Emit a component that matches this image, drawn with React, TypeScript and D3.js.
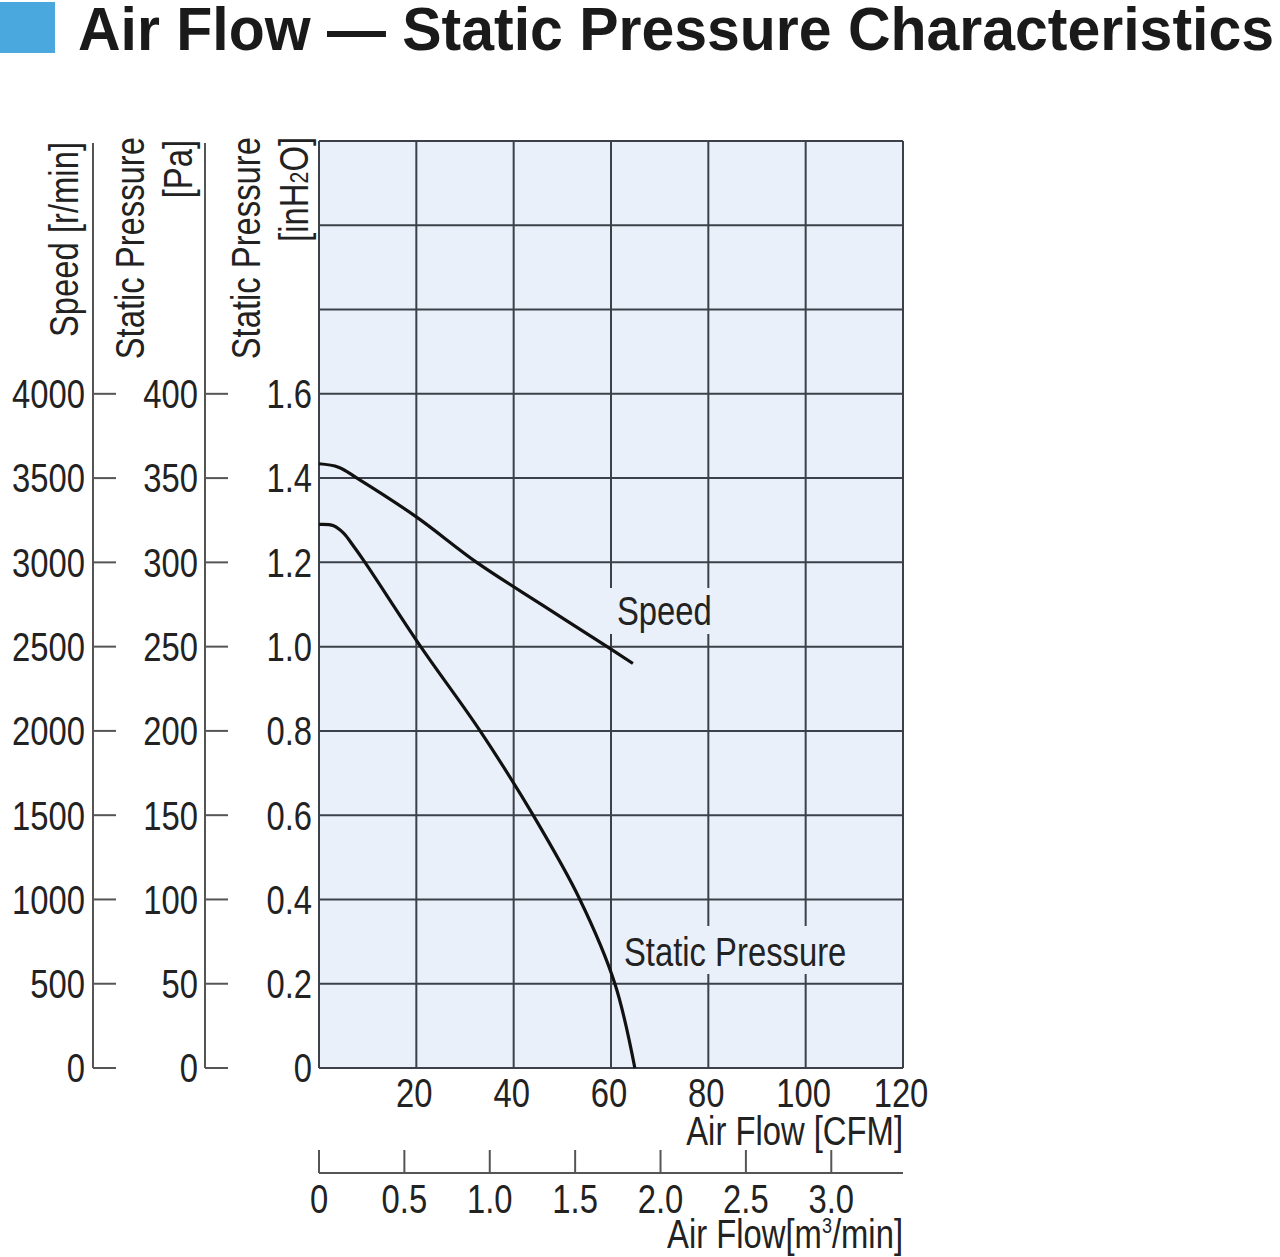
import * as d3 from "d3";

const FONT = "'Liberation Sans', Arial, sans-serif";
const SX = 0.82; // squeeze glyphs to mimic a condensed face

// air flow [CFM] vs static pressure [inH2O]
const pressureFlow = [0, 3, 5, 7, 9.45, 20.9, 33.1, 44, 53.6, 60.8, 64.9];
const pressureVals = [1.29, 1.287, 1.27, 1.24, 1.2, 1.0, 0.8, 0.6, 0.4, 0.2, 0];

// air flow [CFM] vs speed [r/min]
const speedFlow = [0, 4, 7.8, 20, 32.4, 46, 59.2, 64.5];
const speedVals = [3585, 3565, 3500, 3270, 3000, 2745, 2500, 2400];

const cfmTicks = [20, 40, 60, 80, 100, 120];
const m3Ticks = ["0", "0.5", "1.0", "1.5", "2.0", "2.5", "3.0"];
const inh2oTicks = [0, 0.2, 0.4, 0.6, 0.8, 1.0, 1.2, 1.4, 1.6];
const paTicks = [0, 50, 100, 150, 200, 250, 300, 350, 400];
const rpmTicks = [0, 500, 1000, 1500, 2000, 2500, 3000, 3500, 4000];

const PLOT = { left: 319, right: 903, top: 141, bottom: 1068 };
const GRID = "#3b4049";
const BG = "#e9f0f9";

const T = ({ x, y, anchor = "start", rot = false, size = 40, dy, children }: any) => (
  <text
    transform={`translate(${x},${y})${rot ? " rotate(-90)" : ""} scale(${SX},1)`}
    textAnchor={anchor}
    dy={dy}
    fontFamily={FONT}
    fontSize={size}
    fill="#222"
  >
    {children}
  </text>
);

export default function App() {
  const x = d3.scaleLinear().domain([0, 120]).range([PLOT.left, PLOT.right]);
  const xm3 = d3.scaleLinear().domain([0, 3.42]).range([PLOT.left, PLOT.right]);
  const y = d3.scaleLinear().domain([0, 2.2]).range([PLOT.bottom, PLOT.top]);
  const yPa = d3.scaleLinear().domain([0, 400]).range([PLOT.bottom, y(1.6)]);
  const yRpm = d3.scaleLinear().domain([0, 4000]).range([PLOT.bottom, y(1.6)]);

  const hGrid = d3.range(0, 2.2001, 0.2);
  const line = d3.line<[number, number]>().x((d) => d[0]).y((d) => d[1]).curve(d3.curveCatmullRom.alpha(0.5));

  const pPath = line(pressureFlow.map((f, i) => [x(f), y(pressureVals[i])]));
  const sPath = line(speedFlow.map((f, i) => [x(f), yRpm(speedVals[i])]));

  return (
    <svg width={1280} height={1257} style={{ position: "absolute", left: 0, top: 0 }}>
      <rect x={0} y={0} width={1280} height={1257} fill="#fff" />
      {/* title */}
      <rect x={0} y={2} width={55} height={51} fill="#4aa8df" />
      <text x={78} y={50} fontFamily={FONT} fontWeight="bold" fontSize={62} fill="#1a1a1a"
        textLength={1196} lengthAdjust="spacingAndGlyphs">
        Air Flow — Static Pressure Characteristics
      </text>

      {/* plot background + grid */}
      <rect x={PLOT.left} y={PLOT.top} width={PLOT.right - PLOT.left} height={PLOT.bottom - PLOT.top} fill={BG} />
      {hGrid.map((v, i) => (
        <line key={"h" + i} x1={PLOT.left} x2={PLOT.right} y1={y(v)} y2={y(v)} stroke={GRID} strokeWidth={2} />
      ))}
      {[0, ...cfmTicks].map((v) => (
        <line key={"v" + v} x1={x(v)} x2={x(v)} y1={PLOT.top} y2={PLOT.bottom} stroke={GRID} strokeWidth={2} />
      ))}

      {/* curve labels, with background knocking out grid */}
      <rect x={610} y={588} width={104} height={46} fill={BG} />
      <T x={617} y={625}>Speed</T>
      <rect x={620} y={926} width={232} height={48} fill={BG} />
      <T x={624} y={966}>Static Pressure</T>

      {/* curves */}
      <path d={sPath ?? ""} fill="none" stroke="#111" strokeWidth={3.2} />
      <path d={pPath ?? ""} fill="none" stroke="#111" strokeWidth={3.2} />

      {/* inH2O axis labels */}
      {inh2oTicks.map((v) => (
        <T key={"i" + v} x={312} y={y(v)} dy="0.36em" anchor="end">
          {v === 0 ? "0" : v.toFixed(1)}
        </T>
      ))}

      {/* Pa axis */}
      <line x1={205} x2={205} y1={143} y2={PLOT.bottom} stroke="#555" strokeWidth={2} />
      {paTicks.map((v) => (
        <g key={"p" + v}>
          <line x1={205} x2={228} y1={yPa(v)} y2={yPa(v)} stroke="#555" strokeWidth={2} />
          <T x={198} y={yPa(v)} dy="0.36em" anchor="end">{v}</T>
        </g>
      ))}

      {/* speed axis */}
      <line x1={93} x2={93} y1={143} y2={PLOT.bottom} stroke="#555" strokeWidth={2} />
      {rpmTicks.map((v) => (
        <g key={"r" + v}>
          <line x1={93} x2={116} y1={yRpm(v)} y2={yRpm(v)} stroke="#555" strokeWidth={2} />
          <T x={85} y={yRpm(v)} dy="0.36em" anchor="end">{v}</T>
        </g>
      ))}

      {/* rotated axis titles */}
      <T x={78} y={142} rot anchor="end">Speed [r/min]</T>
      <T x={144} y={137} rot anchor="end">Static Pressure</T>
      <T x={192} y={140} rot anchor="end">[Pa]</T>
      <T x={260} y={137} rot anchor="end">Static Pressure</T>
      <T x={308} y={137} rot anchor="end">
        [inH<tspan fontSize={26}>2</tspan>O]
      </T>

      {/* CFM axis labels */}
      {cfmTicks.map((v) => (
        <T key={"c" + v} x={x(v) - 2} y={1107} anchor="middle">{v}</T>
      ))}
      <T x={903} y={1145} anchor="end">Air Flow [CFM]</T>

      {/* m3/min axis */}
      <line x1={PLOT.left} x2={PLOT.right} y1={1173} y2={1173} stroke="#555" strokeWidth={2} />
      {m3Ticks.map((t) => (
        <g key={"m" + t}>
          <line x1={xm3(+t)} x2={xm3(+t)} y1={1150} y2={1173} stroke="#555" strokeWidth={2} />
          <T x={xm3(+t)} y={1213} anchor="middle">{t}</T>
        </g>
      ))}
      <T x={903} y={1248} anchor="end">
        Air Flow[m<tspan fontSize={22} dy={-15}>3</tspan><tspan dy={15}>/min]</tspan>
      </T>
    </svg>
  );
}
